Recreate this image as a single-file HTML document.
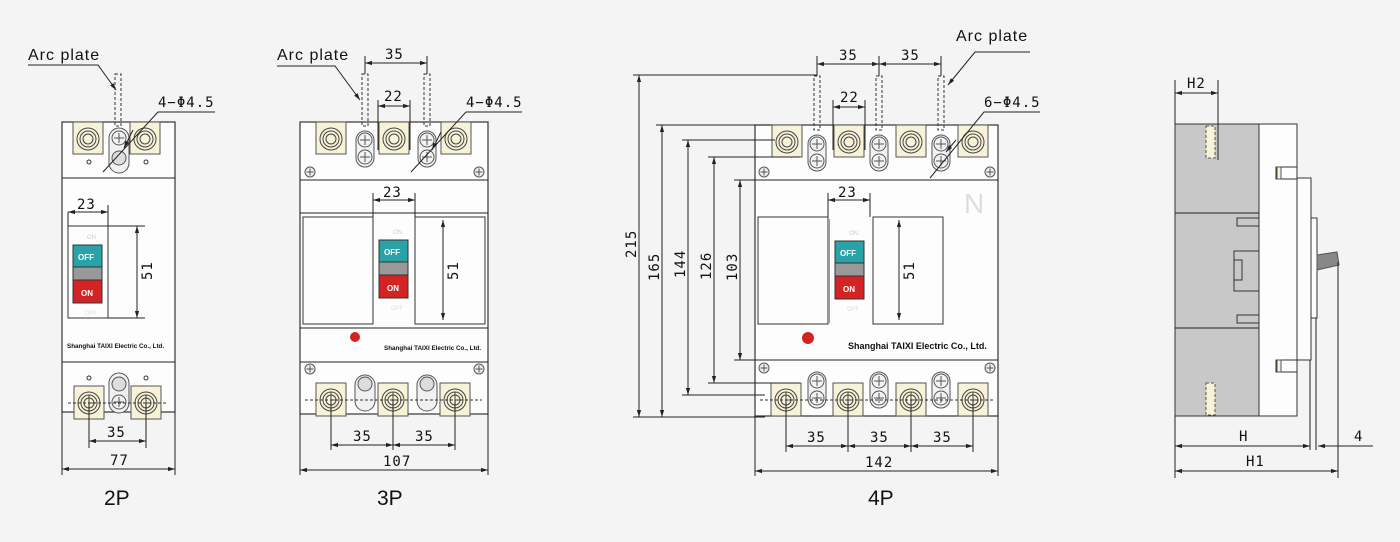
<!DOCTYPE html>
<html><head><meta charset="utf-8"><style>
html,body{margin:0;padding:0;background:#f4f4f4}
svg{display:block}
text{font-family:"Liberation Sans",sans-serif;fill:#111}
.d{font-family:"DejaVu Sans Mono","Liberation Mono",monospace;font-size:14px;letter-spacing:1px}
.l{stroke:#222;stroke-width:1;fill:none}
.b{stroke:#333;stroke-width:1.2;fill:#fdfdfd}
.dash{stroke:#333;stroke-width:1;stroke-dasharray:3,2;fill:none}
.cr{fill:#f7f2d8;stroke:#555;stroke-width:1}
.ap{font-size:16px;letter-spacing:1px}
</style></head><body>
<svg width="1400" height="542" viewBox="0 0 1400 542" xmlns="http://www.w3.org/2000/svg">
<defs>
<marker id="a" viewBox="0 0 10 10" refX="10" refY="5" markerWidth="9" markerHeight="7" orient="auto-start-reverse"><path d="M0,2 L10,5 L0,8z" fill="#222"/></marker>
<g id="tt"><rect x="-15" y="-17" width="30" height="32" class="cr"/><circle r="11" fill="none" stroke="#444"/><circle r="8" fill="none" stroke="#444"/><circle r="5" fill="none" stroke="#444"/></g>
<g id="tb"><rect x="-15" y="-17" width="30" height="33" class="cr"/><circle r="11" fill="none" stroke="#444"/><circle r="8" fill="none" stroke="#444"/><circle r="5" fill="none" stroke="#444"/><path d="M0,-8V0H5" stroke="#444" fill="none"/></g>
<g id="sc"><rect x="-9" y="-17" width="18" height="36" rx="9" fill="#f3f3f3" stroke="#555"/><circle cy="-8" r="7" fill="#f3f3f3" stroke="#555"/><path d="M-5,-8H5M0,-13V-3" stroke="#555"/><circle cy="9" r="7" fill="#f3f3f3" stroke="#555"/><path d="M-5,9H5M0,4V14" stroke="#555"/></g>
<g id="sw"><text x="14" y="-6" font-size="6" style="fill:#ccc">ON</text><rect x="0" y="0" width="29" height="22" fill="#2aa3a8" stroke="#333"/><text x="5" y="15" font-size="8" font-weight="bold" style="fill:#fff">OFF</text><rect x="0" y="22" width="29" height="13" fill="#999" stroke="#333"/><rect x="0" y="35" width="29" height="23" fill="#d42323" stroke="#333"/><text x="8" y="51" font-size="8" font-weight="bold" style="fill:#fff">ON</text><text x="12" y="70" font-size="6" style="fill:#ddd">OFF</text></g>
<g id="pl"><circle r="5" fill="#eee" stroke="#555"/><path d="M-3.5,0H3.5M0,-3.5V3.5" stroke="#555"/></g>
</defs>

<!-- ===== 2P ===== -->
<rect x="62" y="122" width="113" height="290" class="b"/>
<line x1="62" y1="178" x2="175" y2="178" class="l"/>
<line x1="62" y1="362" x2="175" y2="362" class="l"/>
<use href="#tt" x="88" y="139"/><use href="#tt" x="145" y="139"/>
<rect x="109" y="128" width="20" height="45" rx="10" fill="#f1f1f1" stroke="#555"/>
<circle cx="119" cy="138" r="7" fill="#f1f1f1" stroke="#555"/><path d="M114,138H124M119,133V143" stroke="#555"/>
<circle cx="119" cy="158" r="7" fill="#ddd" stroke="#555"/>
<circle cx="89" cy="162" r="2" fill="none" stroke="#333"/><circle cx="146" cy="162" r="2" fill="none" stroke="#333"/>
<rect x="115" y="74" width="6" height="52" class="dash"/>
<rect x="68" y="226" width="40" height="92" fill="none" stroke="#333"/>
<use href="#sw" x="73" y="245"/>
<text x="67" y="348" font-size="6.3" font-weight="bold">Shanghai TAIXI Electric Co., Ltd.</text>
<use href="#tb" x="89" y="403"/><use href="#tb" x="146" y="403"/>
<rect x="109" y="373" width="20" height="40" rx="10" fill="#f1f1f1" stroke="#555"/>
<circle cx="119" cy="384" r="7" fill="#ddd" stroke="#555"/>
<circle cx="119" cy="402" r="7" fill="#f1f1f1" stroke="#555"/><path d="M114,402H124M119,397V407" stroke="#555"/>
<circle cx="89" cy="378" r="2" fill="none" stroke="#333"/><circle cx="146" cy="378" r="2" fill="none" stroke="#333"/>
<line x1="68" y1="403" x2="168" y2="403" class="dash"/>
<path d="M28,65H98L116,90" class="l" marker-end="url(#a)"/>
<text x="28" y="60" class="ap">Arc plate</text>
<path d="M215,112H158L103,172" class="l"/><line x1="133" y1="130" x2="124" y2="148" class="l" marker-end="url(#a)"/>
<text x="158" y="107" class="d">4−Φ4.5</text>
<path d="M68,212V226M108,205V226" class="l"/><line x1="68" y1="212" x2="108" y2="212" class="l" marker-start="url(#a)" marker-end="url(#a)"/>
<text x="77" y="209" class="d">23</text>
<line x1="108" y1="226" x2="145" y2="226" class="l"/><line x1="108" y1="318" x2="145" y2="318" class="l"/>
<line x1="137" y1="226" x2="137" y2="318" class="l" marker-start="url(#a)" marker-end="url(#a)"/>
<text transform="translate(152,280) rotate(-90)" class="d">51</text>
<path d="M89,403V448M146,403V448M62,412V475M175,412V475" class="l"/>
<line x1="89" y1="441" x2="146" y2="441" class="l" marker-start="url(#a)" marker-end="url(#a)"/>
<text x="107" y="437" class="d">35</text>
<line x1="62" y1="469" x2="175" y2="469" class="l" marker-start="url(#a)" marker-end="url(#a)"/>
<text x="110" y="465" class="d">77</text>
<text x="104" y="505" font-size="21">2P</text>

<!-- ===== 3P ===== -->
<rect x="300" y="122" width="188" height="292" class="b"/>
<line x1="300" y1="180" x2="488" y2="180" class="l"/>
<line x1="300" y1="213" x2="488" y2="213" class="l"/>
<line x1="300" y1="328" x2="488" y2="328" class="l"/>
<line x1="300" y1="362" x2="488" y2="362" class="l"/>
<rect x="303" y="217" width="70" height="107" fill="none" stroke="#333"/>
<rect x="415" y="217" width="70" height="107" fill="none" stroke="#333"/>
<use href="#tt" x="331" y="139"/><use href="#tt" x="394" y="139"/><use href="#tt" x="456" y="139"/>
<use href="#sc" x="365" y="148"/><use href="#sc" x="427" y="148"/>
<rect x="362" y="74" width="6" height="52" class="dash"/><rect x="424" y="74" width="6" height="52" class="dash"/>
<use href="#pl" x="310" y="172"/><use href="#pl" x="479" y="172"/>
<use href="#sw" x="379" y="240"/>
<circle cx="355" cy="337" r="5" fill="#d42323"/>
<text x="384" y="350" font-size="6.3" font-weight="bold">Shanghai TAIXI Electric Co., Ltd.</text>
<use href="#pl" x="310" y="369"/><use href="#pl" x="479" y="369"/>
<use href="#tb" x="331" y="400"/><use href="#tb" x="393" y="400"/><use href="#tb" x="455" y="400"/>
<rect x="355" y="375" width="20" height="36" rx="10" fill="#f1f1f1" stroke="#555"/><circle cx="365" cy="384" r="7" fill="#ddd" stroke="#555"/>
<rect x="417" y="375" width="20" height="36" rx="10" fill="#f1f1f1" stroke="#555"/><circle cx="427" cy="384" r="7" fill="#ddd" stroke="#555"/>
<line x1="305" y1="400" x2="482" y2="400" class="dash"/>
<path d="M277,66H335L360,100" class="l" marker-end="url(#a)"/>
<text x="277" y="60" class="ap">Arc plate</text>
<path d="M365,56V74M427,56V74" class="l"/>
<line x1="365" y1="63" x2="427" y2="63" class="l" marker-start="url(#a)" marker-end="url(#a)"/>
<text x="385" y="59" class="d">35</text>
<path d="M378,100V150M410,100V150" class="l"/>
<line x1="378" y1="106" x2="410" y2="106" class="l" marker-start="url(#a)" marker-end="url(#a)"/>
<text x="384" y="101" class="d">22</text>
<path d="M522,112H466L411,172" class="l"/><line x1="441" y1="132" x2="432" y2="150" class="l" marker-end="url(#a)"/>
<text x="466" y="107" class="d">4−Φ4.5</text>
<path d="M373,193V217M415,193V217" class="l"/>
<line x1="373" y1="200" x2="415" y2="200" class="l" marker-start="url(#a)" marker-end="url(#a)"/>
<text x="383" y="197" class="d">23</text>
<line x1="443" y1="220" x2="443" y2="320" class="l" marker-start="url(#a)" marker-end="url(#a)"/>
<text transform="translate(458,280) rotate(-90)" class="d">51</text>
<path d="M331,400V450M393,400V450M455,400V450M300,414V475M488,414V475" class="l"/>
<line x1="331" y1="445" x2="393" y2="445" class="l" marker-start="url(#a)" marker-end="url(#a)"/>
<line x1="393" y1="445" x2="455" y2="445" class="l" marker-start="url(#a)" marker-end="url(#a)"/>
<text x="353" y="441" class="d">35</text><text x="415" y="441" class="d">35</text>
<line x1="300" y1="470" x2="488" y2="470" class="l" marker-start="url(#a)" marker-end="url(#a)"/>
<text x="383" y="466" class="d">107</text>
<text x="377" y="505" font-size="21">3P</text>

<!-- ===== 4P ===== -->
<rect x="755" y="125" width="243" height="291" class="b"/>
<line x1="755" y1="180" x2="998" y2="180" class="l"/>
<line x1="755" y1="360" x2="998" y2="360" class="l"/>
<rect x="758" y="217" width="70" height="107" fill="none" stroke="#333"/>
<rect x="828" y="219" width="2" height="104" fill="#999"/>
<rect x="873" y="217" width="70" height="107" fill="none" stroke="#333"/>
<use href="#tt" x="787" y="142"/><use href="#tt" x="849" y="142"/><use href="#tt" x="911" y="142"/><use href="#tt" x="973" y="142"/>
<use href="#sc" x="817" y="152"/><use href="#sc" x="879" y="152"/><use href="#sc" x="941" y="152"/>
<rect x="814" y="76" width="6" height="54" class="dash"/><rect x="876" y="76" width="6" height="54" class="dash"/><rect x="938" y="76" width="6" height="54" class="dash"/>
<use href="#pl" x="764" y="172"/><use href="#pl" x="990" y="172"/>
<text x="964" y="213" font-size="28" style="fill:#ddd">N</text>
<use href="#sw" x="835" y="241"/>
<circle cx="808" cy="338" r="6" fill="#d42323"/>
<text x="848" y="349" font-size="9" font-weight="bold">Shanghai TAIXI Electric Co., Ltd.</text>
<use href="#pl" x="764" y="368"/><use href="#pl" x="990" y="368"/>
<use href="#tb" x="786" y="400"/><use href="#tb" x="848" y="400"/><use href="#tb" x="911" y="400"/><use href="#tb" x="973" y="400"/>
<use href="#sc" x="817" y="389"/><use href="#sc" x="879" y="389"/><use href="#sc" x="941" y="389"/>
<line x1="760" y1="400" x2="995" y2="400" class="dash"/>
<path d="M1030,52H975L948,85" class="l" marker-end="url(#a)"/>
<text x="956" y="41" class="ap">Arc plate</text>
<path d="M817,56V76M879,56V76M941,56V76" class="l"/>
<line x1="817" y1="64" x2="879" y2="64" class="l" marker-start="url(#a)" marker-end="url(#a)"/>
<line x1="879" y1="64" x2="941" y2="64" class="l" marker-start="url(#a)" marker-end="url(#a)"/>
<text x="839" y="60" class="d">35</text><text x="901" y="60" class="d">35</text>
<path d="M833,100V150M865,100V150" class="l"/>
<line x1="833" y1="107" x2="865" y2="107" class="l" marker-start="url(#a)" marker-end="url(#a)"/>
<text x="840" y="102" class="d">22</text>
<path d="M1040,112H984L930,178" class="l"/><line x1="956" y1="140" x2="946" y2="152" class="l" marker-end="url(#a)"/>
<text x="984" y="107" class="d">6−Φ4.5</text>
<path d="M828,193V217M870,193V217" class="l"/>
<line x1="828" y1="200" x2="870" y2="200" class="l" marker-start="url(#a)" marker-end="url(#a)"/>
<text x="838" y="197" class="d">23</text>
<line x1="899" y1="220" x2="899" y2="320" class="l" marker-start="url(#a)" marker-end="url(#a)"/>
<text transform="translate(914,280) rotate(-90)" class="d">51</text>
<path d="M633,75H817M633,417H765M656,125H770M656,417H765M682,140H775M682,395H765M708,157H800M708,383H800M734,180H755M734,360H755" class="l"/>
<line x1="639" y1="75" x2="639" y2="417" class="l" marker-start="url(#a)" marker-end="url(#a)"/>
<line x1="662" y1="125" x2="662" y2="417" class="l" marker-start="url(#a)" marker-end="url(#a)"/>
<line x1="688" y1="140" x2="688" y2="395" class="l" marker-start="url(#a)" marker-end="url(#a)"/>
<line x1="714" y1="157" x2="714" y2="383" class="l" marker-start="url(#a)" marker-end="url(#a)"/>
<line x1="740" y1="180" x2="740" y2="360" class="l" marker-start="url(#a)" marker-end="url(#a)"/>
<text transform="translate(636,258) rotate(-90)" class="d">215</text>
<text transform="translate(659,281) rotate(-90)" class="d">165</text>
<text transform="translate(685,278) rotate(-90)" class="d">144</text>
<text transform="translate(711,280) rotate(-90)" class="d">126</text>
<text transform="translate(737,281) rotate(-90)" class="d">103</text>
<path d="M786,400V452M848,400V452M911,400V452M973,400V452M755,416V476M998,416V476" class="l"/>
<line x1="786" y1="446" x2="848" y2="446" class="l" marker-start="url(#a)" marker-end="url(#a)"/>
<line x1="848" y1="446" x2="911" y2="446" class="l" marker-start="url(#a)" marker-end="url(#a)"/>
<line x1="911" y1="446" x2="973" y2="446" class="l" marker-start="url(#a)" marker-end="url(#a)"/>
<text x="807" y="442" class="d">35</text><text x="870" y="442" class="d">35</text><text x="933" y="442" class="d">35</text>
<line x1="755" y1="471" x2="998" y2="471" class="l" marker-start="url(#a)" marker-end="url(#a)"/>
<text x="865" y="467" class="d">142</text>
<text x="868" y="505" font-size="21">4P</text>

<!-- ===== Side view ===== -->
<rect x="1175" y="124" width="84" height="292" fill="#c8c8c8" stroke="#333"/>
<line x1="1175" y1="213" x2="1259" y2="213" class="l"/><line x1="1175" y1="328" x2="1259" y2="328" class="l"/>
<rect x="1259" y="124" width="38" height="292" fill="#fdfdfd" stroke="#333"/>
<rect x="1297" y="178" width="14" height="182" fill="#fdfdfd" stroke="#333"/>
<rect x="1276" y="167" width="21" height="12" fill="#fdfdfd" stroke="#333"/>
<rect x="1276" y="360" width="21" height="12" fill="#fdfdfd" stroke="#333"/>
<rect x="1277" y="167" width="4" height="12" fill="#f7f2d8" stroke="#555"/><rect x="1277" y="360" width="4" height="12" fill="#f7f2d8" stroke="#555"/>
<rect x="1311" y="218" width="6" height="100" fill="#fdfdfd" stroke="#333"/>
<path d="M1317,255L1337,252L1339,265L1317,270z" fill="#888" stroke="#555"/>
<rect x="1237" y="218" width="22" height="8" fill="#c8c8c8" stroke="#333"/>
<rect x="1237" y="315" width="22" height="8" fill="#c8c8c8" stroke="#333"/>
<rect x="1234" y="251" width="25" height="40" fill="#c8c8c8" stroke="#333"/>
<rect x="1234" y="260" width="8" height="20" fill="#c8c8c8" stroke="#333"/>
<rect x="1206" y="126" width="9" height="32" fill="#f7f2d8" stroke="#555" stroke-dasharray="3,2"/>
<rect x="1206" y="383" width="9" height="32" fill="#f7f2d8" stroke="#555" stroke-dasharray="3,2"/>
<path d="M1175,80V124M1218,80V160M1175,416V478M1310,360V450M1316,318V450M1338,262V478" class="l"/>
<line x1="1175" y1="93" x2="1218" y2="93" class="l" marker-start="url(#a)" marker-end="url(#a)"/>
<text x="1187" y="88" class="d">H2</text>
<line x1="1175" y1="446" x2="1310" y2="446" class="l" marker-start="url(#a)" marker-end="url(#a)"/>
<line x1="1318" y1="446" x2="1373" y2="446" class="l" marker-start="url(#a)"/>
<text x="1239" y="441" class="d">H</text><text x="1354" y="441" class="d">4</text>
<line x1="1175" y1="471" x2="1338" y2="471" class="l" marker-start="url(#a)" marker-end="url(#a)"/>
<text x="1246" y="466" class="d">H1</text>
</svg>
</body></html>
